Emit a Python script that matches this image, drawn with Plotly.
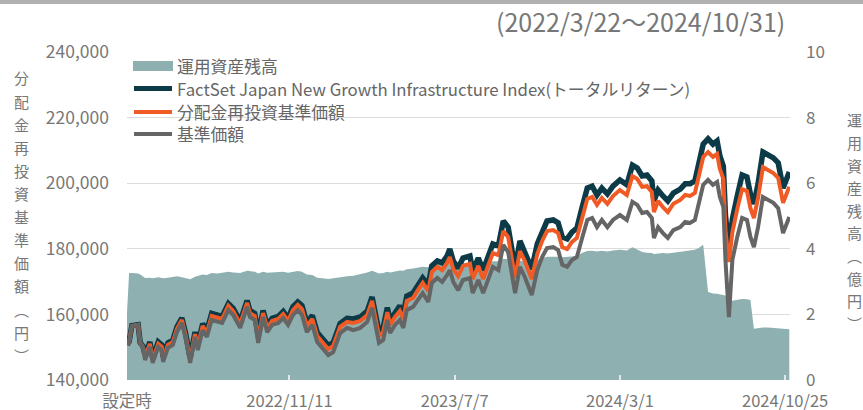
import plotly.graph_objects as go

dates = [
"2022-03-22","2022-03-25","2022-03-29","2022-04-07","2022-04-10","2022-04-14","2022-04-17","2022-04-24","2022-04-28","2022-05-06",
"2022-05-11","2022-05-13","2022-05-20","2022-05-27","2022-06-02","2022-06-09","2022-06-14","2022-06-21","2022-06-28","2022-07-02",
"2022-07-09","2022-07-15","2022-07-22","2022-07-30","2022-08-06","2022-08-15","2022-08-22","2022-09-01","2022-09-11","2022-09-15",
"2022-09-22","2022-09-27","2022-10-04","2022-10-10","2022-10-17","2022-10-26","2022-11-02","2022-11-09","2022-11-16","2022-11-23",
"2022-11-29","2022-12-06","2022-12-14","2022-12-21","2022-12-29","2023-01-06","2023-01-13","2023-01-23","2023-02-02","2023-02-11",
"2023-02-21","2023-03-03","2023-03-10","2023-03-17","2023-03-20","2023-03-26","2023-04-01","2023-04-05","2023-04-12","2023-04-19",
"2023-04-24","2023-04-29","2023-05-08","2023-05-15","2023-05-22","2023-05-30","2023-06-04","2023-06-12","2023-06-19","2023-06-26",
"2023-06-30","2023-07-05","2023-07-12","2023-07-19","2023-07-29","2023-08-02","2023-08-10","2023-08-17","2023-08-24","2023-08-31",
"2023-09-08","2023-09-15","2023-09-22","2023-10-02","2023-10-09","2023-10-16","2023-10-26","2023-11-03","2023-11-10","2023-11-17",
"2023-11-26","2023-12-03","2023-12-09","2023-12-16","2023-12-23","2023-12-30","2024-01-07","2024-01-14","2024-01-21","2024-01-28",
"2024-02-04","2024-02-12","2024-02-20","2024-03-01","2024-03-11","2024-03-19","2024-03-26","2024-04-02","2024-04-09","2024-04-16",
"2024-04-19","2024-04-25","2024-05-02","2024-05-09","2024-05-17","2024-05-27","2024-06-03","2024-06-10","2024-06-17","2024-06-22",
"2024-06-29","2024-07-06","2024-07-13","2024-07-19","2024-07-23","2024-07-28","2024-07-31","2024-08-05","2024-08-10","2024-08-17",
"2024-08-24","2024-08-31","2024-09-05","2024-09-10","2024-09-16","2024-09-23","2024-09-30","2024-10-08","2024-10-15","2024-10-22",
"2024-10-31"]

# 基準価額 (円)
nav = [
150700,151600,156500,156800,151300,150100,146100,150100,145200,150100,
149100,145500,149800,150700,154600,157400,153100,145200,153100,149100,
155200,153100,158300,157700,157400,161300,159800,155900,162300,159200,
158300,151300,159200,154600,156800,157400,158900,156800,159800,161300,
159800,154600,156800,151600,149800,147600,148500,154300,155900,155200,
155900,157700,162000,155200,151300,152200,158300,154300,156800,158300,
155900,161300,162300,164400,166500,163800,169600,171100,169900,172000,
173500,169900,167400,170500,171100,166500,170500,166500,170500,174500,
173500,181200,179000,166500,174500,171400,165900,173500,177500,180200,
180500,179600,175100,174500,176600,177500,183600,188800,189400,186600,
188800,186600,188800,190300,188800,194300,193400,190900,191200,189400,
183300,186600,184800,183300,185700,186600,188200,187900,188800,193400,
199500,201000,199500,200400,195800,192700,176600,159200,176600,183600,
189400,188800,183600,180500,186600,195800,194900,194000,192400,184800,
189700]

# 分配金再投資基準価額 (円)
nav_reinvest = [
150700,151600,156500,156800,151300,150100,147000,151000,146100,151000,
150100,146400,150700,151600,155600,158300,154000,146100,154000,150100,
156500,154300,159500,158900,158600,162600,161000,157100,163500,160400,
159500,152500,160400,155900,158000,158600,160100,158000,161300,162900,
161600,156500,158600,153400,151600,149400,150400,156200,157700,157400,
158000,159800,164100,157400,153400,154600,160700,156800,159200,161000,
158600,164100,165000,167400,169600,167100,172900,174500,173500,175700,
177500,173800,171700,174800,175400,170800,174800,170800,174800,178700,
178100,185400,183600,171100,179300,176300,170800,178400,182400,185400,
185700,184800,180500,179900,182100,183300,189700,195200,195800,193400,
195500,193700,196100,197900,196400,202200,201300,198900,199100,197300,
191200,194600,192700,191200,193700,194900,196400,196100,197000,201600,
208000,209500,208000,208900,204300,201300,185700,176000,185100,192100,
198200,197600,192400,189400,195500,204900,204000,203100,201600,194000,
198900]

# FactSet Japan New Growth Infrastructure Index (トータルリターン)
index_tr = [
150800,151700,156600,156900,151400,150300,147600,151600,146700,151600,
150700,147000,151300,152200,156200,158900,154600,146700,154600,150700,
157200,155100,160300,159700,159400,163300,161800,157900,164200,161200,
160300,153300,161200,156600,158800,159400,160900,158800,162300,163800,
162700,157500,159700,154500,152700,150500,151400,157200,158800,158600,
159200,161000,165300,158600,154600,156000,162100,158100,160600,162600,
160100,165600,166500,169000,171100,169000,174800,176300,175700,177800,
179900,176300,174100,177200,177800,173200,177200,173500,177500,181500,
180900,188500,186600,174100,182400,179300,173900,181500,185400,188500,
188800,187900,183600,183000,185100,186300,193000,198500,199100,196400,
198500,196700,199100,201000,199500,205500,204600,202200,202500,200700,
194600,197900,196100,194600,197000,198200,199800,199800,200700,205200,
211900,213500,211900,212900,208300,205200,190300,179600,189100,196100,
202500,201900,196700,193700,199800,209500,208600,207700,206200,198500,
203400]

# 運用資産残高 (億円)
aum = [
2.05,3.26,3.26,3.25,3.22,3.15,3.11,3.12,3.10,3.13,
3.12,3.10,3.12,3.14,3.16,3.13,3.10,3.07,3.15,3.18,
3.22,3.20,3.26,3.25,3.27,3.30,3.28,3.26,3.33,3.32,
3.30,3.25,3.30,3.27,3.28,3.29,3.30,3.27,3.29,3.32,
3.30,3.22,3.20,3.12,3.10,3.08,3.10,3.14,3.16,3.18,
3.22,3.28,3.33,3.27,3.25,3.26,3.30,3.28,3.32,3.34,
3.33,3.38,3.40,3.42,3.45,3.44,3.50,3.55,3.54,3.58,
3.60,3.56,3.52,3.56,3.57,3.52,3.56,3.52,3.57,3.62,
3.62,3.70,3.68,3.55,3.63,3.62,3.58,3.66,3.72,3.76,
3.77,3.76,3.74,3.75,3.76,3.78,3.88,3.93,3.94,3.92,
3.94,3.92,3.95,3.97,3.95,4.05,3.98,3.90,3.88,3.87,
3.84,3.86,3.87,3.86,3.88,3.90,3.92,3.95,3.97,4.02,
4.12,2.68,2.64,2.63,2.62,2.61,2.58,2.40,2.42,2.45,
2.47,2.46,2.44,1.56,1.58,1.60,1.60,1.59,1.58,1.57,
1.55]

series_names = ["運用資産残高",
                "FactSet Japan New Growth Infrastructure Index(トータルリターン)",
                "分配金再投資基準価額",
                "基準価額"]
tick_dates = ["2022-03-22", "2022-11-11", "2023-07-07", "2024-03-01", "2024-10-25"]
tick_text = ["設定時", "2022/11/11", "2023/7/7", "2024/3/1", "2024/10/25"]
period_text = "(2022/3/22～2024/10/31)"
left_title = "分配金再投資基準価額︵円︶"
right_title = "運用資産残高︵億円︶"

FONT = "Noto Sans CJK JP, Noto Sans, sans-serif"
TXT = "#777777"
C_AREA, C_IDX, C_RE, C_NAV = "#8fb0b1", "#0c3a47", "#f05a24", "#656565"

fig = go.Figure()
fig.add_trace(go.Scatter(x=dates, y=aum, name=series_names[0], yaxis="y",
                         fill="tozeroy", mode="lines", line=dict(width=0, color=C_AREA),
                         fillcolor=C_AREA))
fig.add_trace(go.Scatter(x=dates, y=index_tr, name=series_names[1],
                         yaxis="y2", mode="lines", line=dict(width=5.5, color=C_IDX)))
fig.add_trace(go.Scatter(x=dates, y=nav_reinvest, name=series_names[2], yaxis="y2",
                         mode="lines", line=dict(width=4, color=C_RE)))
fig.add_trace(go.Scatter(x=dates, y=nav, name=series_names[3], yaxis="y2",
                         mode="lines", line=dict(width=4, color=C_NAV)))

L, R, T, B = 127, 73, 52, 30
W, H = 863, 410
pw, ph = W - L - R, H - T - B

def px_x(p):
    return (p - L) / pw

def px_y(p):
    return (H - B - p) / ph

fig.update_layout(
    width=W, height=H,
    margin=dict(l=L, r=R, t=T, b=B, autoexpand=False),
    paper_bgcolor="white", plot_bgcolor="white",
    font=dict(family=FONT, color=TXT, size=16),
    showlegend=False,
    xaxis=dict(type="date", range=["2022-03-22", "2024-11-01"], automargin=False,
               tickvals=tick_dates, ticktext=tick_text,
               showgrid=False, zeroline=False, showline=False,
               ticks="inside", ticklen=5, tickcolor="#e6e6e6", tickwidth=1.5,
               tickfont=dict(size=16.5, color=TXT), ticklabelstandoff=9),
    yaxis=dict(range=[0, 10], dtick=2, side="right", showgrid=True, automargin=False,
               gridcolor="#dcdcdc", gridwidth=1, zeroline=False, showline=False,
               tickfont=dict(size=17, color=TXT), ticklabelstandoff=15),
    yaxis2=dict(range=[140000, 240000], dtick=20000, side="left", overlaying="y",
                showgrid=False, zeroline=False, showline=False, tickformat=",d", automargin=False,
                tickfont=dict(size=17.5, color=TXT), ticklabelstandoff=17),
)

# legend drawn inside the plot (symbols + texts)
leg_rows = [66, 88.5, 112, 134]
fig.add_shape(type="rect", xref="paper", yref="paper",
              x0=px_x(133), x1=px_x(173), y0=px_y(leg_rows[0] + 5), y1=px_y(leg_rows[0] - 5),
              fillcolor=C_AREA, line=dict(width=0), layer="above")
for row, col, w in zip(leg_rows[1:], [C_IDX, C_RE, C_NAV], [5, 4, 4]):
    fig.add_shape(type="line", xref="paper", yref="paper",
                  x0=px_x(134), x1=px_x(172), y0=px_y(row), y1=px_y(row),
                  line=dict(color=col, width=w), layer="above")
for row, name in zip(leg_rows, series_names):
    fig.add_annotation(text=name, xref="paper", yref="paper",
                       x=px_x(176), y=px_y(row), xanchor="left", yanchor="middle",
                       height=20, borderpad=0,
                       showarrow=False, font=dict(size=16.8, color="#666666"))

# period label
fig.add_annotation(text=period_text, xref="paper", yref="paper",
                   x=px_x(787), y=px_y(21), xanchor="right", yanchor="middle",
                   showarrow=False, font=dict(size=25, color=TXT))

# vertical axis titles, one character per row
for i, ch in enumerate(left_title):
    fig.add_annotation(text=ch, xref="paper", yref="paper",
                       x=px_x(21), y=px_y(78 + i * 23.1), xanchor="center", yanchor="middle",
                       showarrow=False, font=dict(size=15, color=TXT))
for i, ch in enumerate(right_title):
    fig.add_annotation(text=ch, xref="paper", yref="paper",
                       x=px_x(854), y=px_y(120 + i * 22.6), xanchor="center", yanchor="middle",
                       showarrow=False, font=dict(size=15, color=TXT))

# top rule
fig.add_shape(type="rect", xref="paper", yref="paper",
              x0=px_x(0), x1=px_x(W), y0=px_y(4), y1=px_y(0),
              fillcolor="#b0b0b0", line=dict(width=0), layer="above")

fig.write_html("out.html", config={"displayModeBar": False},
               post_script="document.body.style.margin='0';")
